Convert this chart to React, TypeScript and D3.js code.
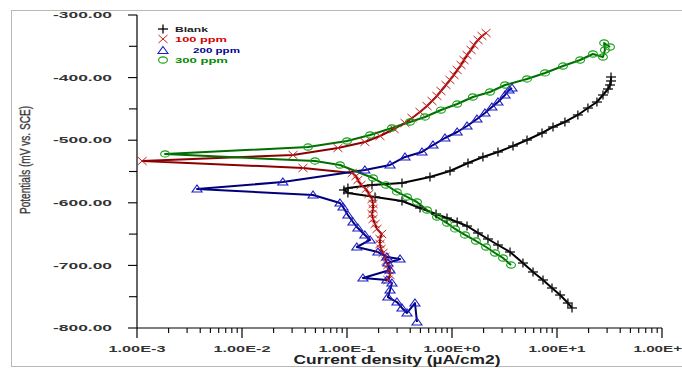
import React from "react";
import * as d3 from "d3";

// [current density µA/cm2, potential mV vs SCE], in scan order (cathodic end -> Ecorr -> anodic end)
const blankData: [number, number][] = [
  [13.9, -768.0], [12.7, -760.1], [10.7, -747.3], [8.96, -736.1], [7.36, -723.3], [5.91, -710.5],
  [4.74, -696.2], [3.57, -678.6], [2.74, -667.4], [2.2, -657.8], [1.77, -648.2], [1.39, -637.1],
  [1.12, -630.7], [0.896, -624.3], [0.705, -617.9], [0.496, -608.3], [0.334, -597.1], [0.185, -590.7],
  [0.102, -584.3], [0.0936, -579.5], [0.102, -576.4], [0.173, -571.6], [0.334, -568.4], [0.617, -558.8],
  [0.957, -549.2], [1.42, -536.4], [1.97, -526.8], [2.74, -518.8], [3.81, -509.3], [5.18, -499.7],
  [7.2, -488.5], [9.16, -478.9], [11.9, -470.9], [15.8, -459.7], [19.7, -448.6], [24.0, -439.0],
  [27.4, -427.8], [30.6, -418.2], [32.0, -411.8], [32.7, -405.4], [32.7, -399.0],
];

const ppm100Data: [number, number][] = [
  [0.245, -723.3], [0.257, -715.3], [0.251, -707.3], [0.245, -699.4], [0.235, -693.0], [0.23, -686.6],
  [0.22, -680.2], [0.211, -673.8], [0.206, -665.8], [0.206, -657.8], [0.214, -649.8], [0.193, -641.8],
  [0.185, -633.9], [0.177, -625.9], [0.173, -617.9], [0.177, -609.9], [0.177, -601.9], [0.173, -593.9],
  [0.162, -585.9], [0.152, -577.9], [0.136, -571.6], [0.127, -563.6], [0.122, -557.2], [0.112, -552.4],
  [0.0381, -544.4], [0.00112, -533.2],
  [0.0306, -523.6], [0.082, -512.5], [0.148, -502.9], [0.206, -493.3], [0.281, -482.1], [0.357, -472.5],
  [0.416, -464.5], [0.496, -455.0], [0.578, -445.4], [0.645, -437.4], [0.719, -429.4], [0.785, -421.4],
  [0.877, -411.8], [0.957, -403.8], [1.045, -395.8], [1.12, -387.9], [1.22, -379.9], [1.3, -371.9],
  [1.39, -363.9], [1.52, -355.9], [1.62, -347.9], [1.77, -339.9], [1.93, -333.5], [2.11, -328.8],
];

const ppm200Data: [number, number][] = [
  [0.464, -790.4], [0.444, -760.1], [0.373, -776.0], [0.334, -768.0], [0.299, -758.5], [0.245, -750.5],
  [0.257, -739.3], [0.268, -728.1], [0.24, -723.3], [0.142, -720.1], [0.257, -707.3], [0.245, -696.2],
  [0.32, -689.8], [0.24, -686.6], [0.197, -678.6], [0.124, -670.6], [0.166, -659.4], [0.148, -651.4],
  [0.127, -640.3], [0.114, -630.7], [0.102, -619.5], [0.0916, -606.7], [0.0857, -600.3], [0.0475, -587.5],
  [0.00373, -578.0],
  [0.0245, -566.8], [0.148, -547.6], [0.257, -539.6], [0.357, -526.8], [0.518, -518.8], [0.659, -507.7],
  [0.857, -496.5], [1.12, -486.9], [1.39, -477.3], [1.73, -466.1], [2.06, -456.5], [2.4, -447.0],
  [2.74, -439.0], [3.2, -427.8], [3.49, -419.8], [3.73, -416.6],
];

const ppm300Data: [number, number][] = [
  [3.65, -699.4], [3.06, -688.2], [2.57, -680.2], [2.11, -670.6], [1.69, -661.0], [1.33, -651.4],
  [1.07, -641.8], [0.896, -632.3], [0.719, -622.7], [0.578, -611.5], [0.464, -598.7], [0.373, -590.7],
  [0.299, -582.7], [0.235, -571.6], [0.177, -560.4], [0.0857, -539.6], [0.0496, -533.2], [0.00185, -522.0],
  [0.0425, -510.9], [0.1, -501.3], [0.166, -491.7], [0.268, -480.5], [0.398, -470.9], [0.553, -462.9],
  [0.785, -451.8], [1.12, -442.2], [1.58, -431.0], [2.3, -423.0], [3.2, -411.8], [5.18, -402.2],
  [7.69, -392.6], [11.4, -381.5], [16.6, -371.9], [22.0, -362.3], [27.4, -367.1], [28.6, -355.9],
  [28.1, -344.7], [32.0, -351.1],
];

const seriesNames = ["Blank", "100 ppm", "200 ppm", "300 ppm"];
const yMajorTicks = [-300, -400, -500, -600, -700, -800];
const yMinorTicks = [-350, -450, -550, -650, -750];
const xDecades = [-3, -2, -1, 0, 1, 2];
const xTickLabels = ["1.00E-3", "1.00E-2", "1.00E-1", "1.00E+0", "1.00E+1", "1.00E+2"];

const FONT = "'Liberation Sans', Arial, sans-serif";

type Marker = "plus" | "x" | "tri" | "circle";

function MarkerShape({ type, x, y, color }: { type: Marker; x: number; y: number; color: string }) {
  if (type === "plus")
    return (
      <g stroke={color} strokeWidth={1.3}>
        <line x1={x - 5} y1={y} x2={x + 5} y2={y} />
        <line x1={x} y1={y - 4.5} x2={x} y2={y + 4.5} />
      </g>
    );
  if (type === "x")
    return (
      <g stroke={color} strokeWidth={1}>
        <line x1={x - 4.5} y1={y - 4} x2={x + 4.5} y2={y + 4} />
        <line x1={x - 4.5} y1={y + 4} x2={x + 4.5} y2={y - 4} />
      </g>
    );
  if (type === "tri")
    return (
      <path
        d={`M${x},${y - 4}L${x + 5},${y + 3}L${x - 5},${y + 3}Z`}
        fill="none"
        stroke={color}
        strokeWidth={1.1}
      />
    );
  return <ellipse cx={x} cy={y} rx={4.4} ry={3.1} fill="none" stroke={color} strokeWidth={1.1} />;
}

export default function App() {
  const x = d3.scaleLog().domain([1e-3, 1e2]).range([137, 662]);
  const y = d3.scaleLinear().domain([-800, -300]).range([328, 15]);
  const line = d3
    .line<[number, number]>()
    .x((d) => x(d[0]))
    .y((d) => y(d[1]));

  const series = [
    { name: seriesNames[0], data: blankData, line: "#000000", mark: "#111111", type: "plus" as Marker, text: "#222222" },
    { name: seriesNames[1], data: ppm100Data, line: "#8b0000", mark: "#c42020", type: "x" as Marker, text: "#d40000" },
    { name: seriesNames[2], data: ppm200Data, line: "#000078", mark: "#1c1cc8", type: "tri" as Marker, text: "#000090" },
    { name: seriesNames[3], data: ppm300Data, line: "#006e00", mark: "#14a014", type: "circle" as Marker, text: "#008a00" },
  ];

  const minorX: number[] = [];
  xDecades.slice(0, -1).forEach((e) => {
    d3.range(2, 10).forEach((m) => minorX.push(m * Math.pow(10, e)));
  });

  const legendRows = [29, 39, 50.5, 60];
  const legendTextX = [175, 175, 193, 175];
  const legendWidths = [33, 52, 47, 53];

  return (
    <svg width={682} height={368} style={{ position: "absolute", left: 0, top: 0, background: "#fff" }}>
      <rect x={11.5} y={10.5} width={680} height={356} fill="none" stroke="#b8b8b8" strokeWidth={1} />

      {/* y axis */}
      <line x1={137} y1={y(-300)} x2={137} y2={y(-800)} stroke="#000" strokeWidth={1.2} />
      {yMajorTicks.map((t) => (
        <g key={t}>
          <line x1={128} y1={y(t)} x2={137} y2={y(t)} stroke="#000" strokeWidth={1.1} />
          <text
            x={112}
            y={y(t) + 3.2}
            textAnchor="end"
            fontFamily={FONT}
            fontWeight="bold"
            fontSize={9}
            fill="#333"
            textLength={59}
            lengthAdjust="spacingAndGlyphs"
          >
            {t.toFixed(2)}
          </text>
        </g>
      ))}
      {yMinorTicks.map((t) => (
        <line key={t} x1={129} y1={y(t)} x2={137} y2={y(t)} stroke="#000" strokeWidth={1.1} />
      ))}

      {/* x axis */}
      <line x1={x(1e-3)} y1={328} x2={x(1e2)} y2={328} stroke="#000" strokeWidth={1.2} />
      {xDecades.map((e, i) => (
        <g key={e}>
          <line x1={x(Math.pow(10, e))} y1={328} x2={x(Math.pow(10, e))} y2={338} stroke="#000" strokeWidth={1.2} />
          <text
            x={x(Math.pow(10, e))}
            y={351.5}
            textAnchor="middle"
            fontFamily={FONT}
            fontWeight="bold"
            fontSize={9}
            fill="#333"
            textLength={57}
            lengthAdjust="spacingAndGlyphs"
          >
            {xTickLabels[i]}
          </text>
        </g>
      ))}
      {minorX.map((v, i) => (
        <line key={i} x1={x(v)} y1={328} x2={x(v)} y2={333} stroke="#000" strokeWidth={1.1} />
      ))}

      {/* axis titles */}
      <text
        x={397}
        y={364}
        textAnchor="middle"
        fontFamily={FONT}
        fontWeight="bold"
        fontSize={12.5}
        fill="#222"
        textLength={207}
        lengthAdjust="spacingAndGlyphs"
      >
        Current density (µA/cm2)
      </text>
      <text
        transform="translate(30,160) rotate(-90)"
        textAnchor="middle"
        fontFamily={FONT}
        fontSize={14.5}
        fill="#222"
        stroke="#666"
        strokeWidth={0.4}
        textLength={108}
        lengthAdjust="spacingAndGlyphs"
      >
        Potentials (mV vs. SCE)
      </text>

      {/* curves */}
      {series.map((s) => (
        <path key={s.name} d={line(s.data) || ""} fill="none" stroke={s.line} strokeWidth={2} strokeLinejoin="round" />
      ))}
      {series.map((s) => (
        <g key={s.name + "m"}>
          {s.data.map((d, i) => (
            <MarkerShape key={i} type={s.type} x={x(d[0])} y={y(d[1])} color={s.mark} />
          ))}
        </g>
      ))}

      {/* legend */}
      {series.map((s, i) => (
        <g key={s.name + "l"}>
          <MarkerShape type={s.type} x={163} y={legendRows[i]} color={s.type === "plus" ? "#000" : s.mark} />
          <text
            x={legendTextX[i]}
            y={legendRows[i] + 2.8}
            fontFamily={FONT}
            fontWeight="bold"
            fontSize={8}
            fill={s.text}
            textLength={legendWidths[i]}
            lengthAdjust="spacingAndGlyphs"
          >
            {s.name}
          </text>
        </g>
      ))}
    </svg>
  );
}
